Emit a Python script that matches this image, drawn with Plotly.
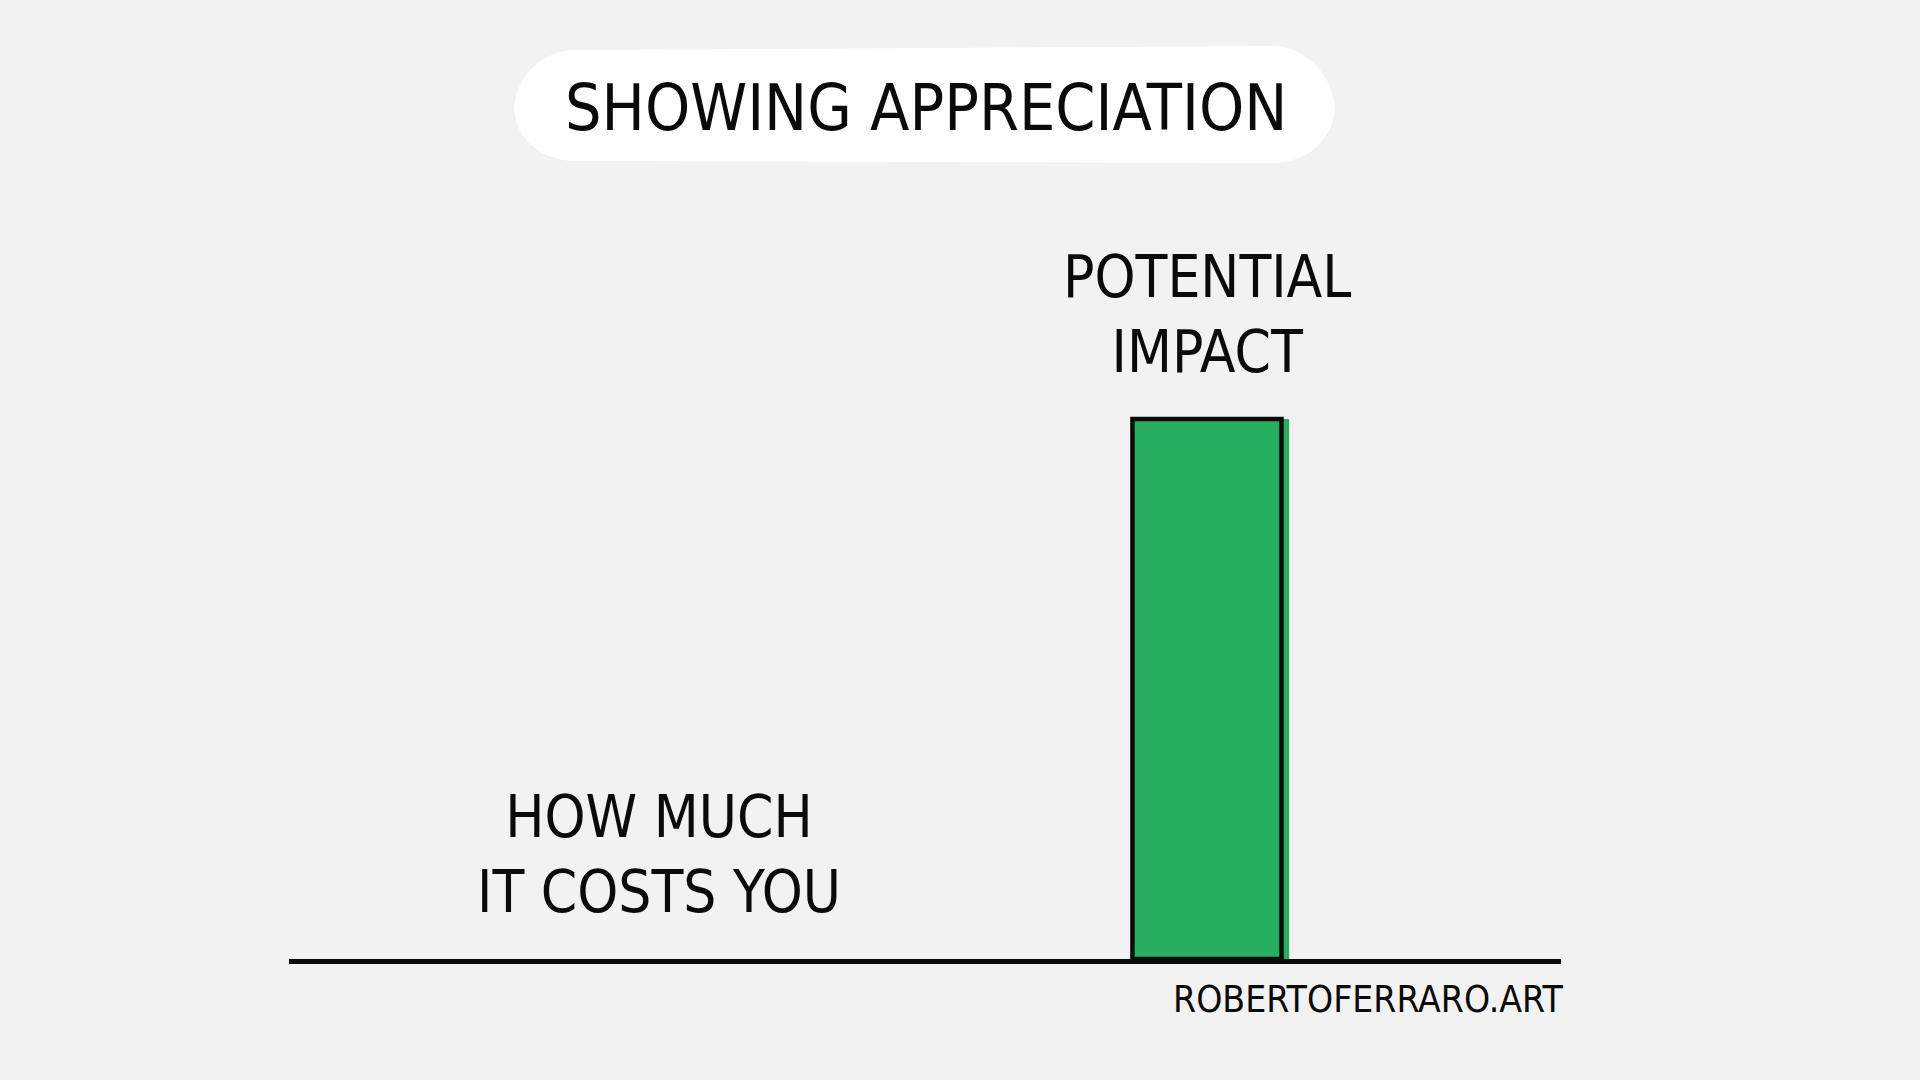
import plotly.graph_objects as go

# ─── Data ─────────────────────────────────────────────────────────────────────
categories = ["How much it costs you", "Potential impact"]
values = [0, 100]
bar_labels = ["HOW MUCH<br>IT COSTS YOU", "POTENTIAL<br>IMPACT"]
title_text = "SHOWING APPRECIATION"
credit_text = "ROBERTOFERRARO.ART"

# ─── Style ────────────────────────────────────────────────────────────────────
BG = "#f2f2f2"
GREEN = "#27ae60"
INK = "#0a0a0a"
FONT = "Liberation Sans Narrow, DejaVu Sans Condensed, Arial Narrow, sans-serif"

W, H = 1920, 1080
L, R, T, B = 289, 359, 180, 121   # plot area in pixels
PW, PH = W - L - R, H - T - B


def px(x, y):
    """pixel -> paper coordinates"""
    return (x - L) / PW, (H - B - y) / PH


def pill_path(x0, y0, x1, y1, r):
    pts = []
    def p(x, y):
        a, b = px(x, y)
        return f"{a:.4f},{b:.4f}"
    k = 0.55 * r
    pts.append("M" + p(x0 + r, y0))
    pts.append("L" + p(x1 - r, y0 - 4))
    pts.append("C" + p(x1 - r + k, y0 - 4) + " " + p(x1, y0 + r - k) + " " + p(x1, y0 + r))
    pts.append("L" + p(x1, y1 - r))
    pts.append("C" + p(x1, y1 - r + k) + " " + p(x1 - r + k, y1 - 4) + " " + p(x1 - r, y1 - 4))
    pts.append("L" + p(x0 + r, y1 - 6))
    pts.append("C" + p(x0 + r - k, y1 - 6) + " " + p(x0, y1 - r + k) + " " + p(x0, y1 - r))
    pts.append("L" + p(x0, y0 + r))
    pts.append("C" + p(x0, y0 + r - k) + " " + p(x0 + r - k, y0) + " " + p(x0 + r, y0))
    return " ".join(pts) + " Z"


fig = go.Figure()

# green fill, a touch offset like a hand-coloured bar
fig.add_trace(go.Bar(
    x=categories, y=values,
    width=0.286, offset=-0.136,
    marker=dict(color=GREEN, line=dict(width=0)),
    hoverinfo="skip", showlegend=False,
))
# black outline (none for the zero bar)
fig.add_trace(go.Bar(
    x=categories, y=values,
    width=0.272, offset=-0.136,
    marker=dict(color="rgba(0,0,0,0)",
                line=dict(color=INK, width=[4.5 if v > 0 else 0 for v in values])),
    hoverinfo="skip", showlegend=False,
))

# category labels sitting above each bar
for cat, val, lab in zip(categories, values, bar_labels):
    fig.add_annotation(
        x=cat, y=val, text=lab, showarrow=False,
        xref="x", yref="y", yanchor="bottom", yshift=31,
        font=dict(family=FONT, size=58, color=INK),
        align="center",
    )

# title pill
fig.add_shape(type="path", xref="paper", yref="paper",
              path=pill_path(514, 50, 1335, 167, 62),
              fillcolor="white", line=dict(width=0), layer="below")
fig.add_annotation(
    x=px(926, 108)[0], y=px(926, 108)[1], xref="paper", yref="paper",
    xanchor="center", yanchor="middle",
    text=title_text, showarrow=False,
    font=dict(family=FONT, size=64, color=INK),
)

# credit
fig.add_annotation(
    x=1, y=px(0, 999)[1], xref="paper", yref="paper",
    xanchor="right", yanchor="middle", xshift=4, text=credit_text, showarrow=False,
    font=dict(family=FONT, size=37, color=INK),
)

fig.update_layout(
    width=W, height=H,
    margin=dict(l=L, r=R, t=T, b=B),
    paper_bgcolor=BG, plot_bgcolor=BG,
    barmode="overlay",
    xaxis=dict(
        type="category", range=[-0.675, 1.646],
        showline=True, linecolor=INK, linewidth=5,
        showticklabels=False, ticks="", showgrid=False, zeroline=False,
    ),
    yaxis=dict(
        range=[0, 100 * PH / 540], visible=False,
        showgrid=False, zeroline=False,
    ),
)

fig.write_html("out.html", config=dict(displayModeBar=False),
               post_script="document.body.style.margin='0';")
